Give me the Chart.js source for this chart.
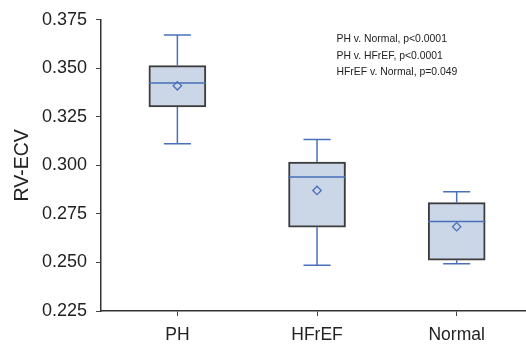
<!DOCTYPE html>
<html>
<head>
<meta charset="utf-8">
<script src="https://cdn.jsdelivr.net/npm/chart.js@4"></script>
<style>
  html, body { margin: 0; padding: 0; background: #fff; overflow: hidden; }
  #wrap { width: 526px; height: 345px; overflow: hidden; }
</style>
</head>
<body>
<div id="wrap"><canvas id="c" width="532" height="345"></canvas></div>
<script>
const categories = ['PH', 'HFrEF', 'Normal'];
const whiskerLow  = [0.3112, 0.2486, 0.2493];
const q1          = [0.3301, 0.2682, 0.2512];
const median      = [0.3425, 0.2940, 0.2711];
const q3          = [0.3514, 0.3017, 0.2808];
const whiskerHigh = [0.3672, 0.3134, 0.2864];
const means       = [0.3410, 0.2871, 0.2684];
const yTicks      = [0.225, 0.250, 0.275, 0.300, 0.325, 0.350, 0.375];
const annotations = ['PH v. Normal, p<0.0001', 'PH v. HFrEF, p<0.0001', 'HFrEF v. Normal, p=0.049'];

const BLUE = '#4a70bb';
const BOX_FILL = '#cbd6e7';
const BOX_EDGE = '#3c3c3c';
const BOX_HALF = 0.205;
const CAP_HALF = 0.097;
const FONT = "'Liberation Sans', Arial, Helvetica, sans-serif";

const xs = categories.map((_, i) => i + 1);

const whiskerPts = [];
xs.forEach((x, i) => {
  whiskerPts.push({x: x, y: q3[i]}, {x: x, y: whiskerHigh[i]}, {x: x, y: null});
  whiskerPts.push({x: x, y: q1[i]}, {x: x, y: whiskerLow[i]}, {x: x, y: null});
  whiskerPts.push({x: x - CAP_HALF, y: whiskerHigh[i]}, {x: x + CAP_HALF, y: whiskerHigh[i]}, {x: x, y: null});
  whiskerPts.push({x: x - CAP_HALF, y: whiskerLow[i]}, {x: x + CAP_HALF, y: whiskerLow[i]}, {x: x, y: null});
});
const medianPts = [];
xs.forEach((x, i) => {
  medianPts.push({x: x - BOX_HALF, y: median[i]}, {x: x + BOX_HALF, y: median[i]}, {x: x, y: null});
});

const annotationPlugin = {
  id: 'annot',
  afterDatasetsDraw(chart) {
    const ctx = chart.ctx;
    ctx.save();
    ctx.font = "10.4px " + FONT;
    ctx.fillStyle = '#222';
    ctx.textBaseline = 'middle';
    ctx.textAlign = 'left';
    annotations.forEach((t, i) => ctx.fillText(t, 336.5, 39.5 + i * 16.5));
    ctx.restore();
  }
};

new Chart(document.getElementById('c'), {
  type: 'bar',
  data: {
    datasets: [
      {
        type: 'bar',
        data: xs.map((x, i) => ({x: x, y: [q1[i], q3[i]]})),
        backgroundColor: BOX_FILL,
        borderColor: BOX_EDGE,
        borderWidth: 2,
        borderSkipped: false,
        barThickness: 57,
        order: 3
      },
      {
        type: 'line',
        data: whiskerPts,
        borderColor: BLUE,
        borderWidth: 1.5,
        pointRadius: 0,
        spanGaps: false,
        fill: false,
        order: 2
      },
      {
        type: 'line',
        data: medianPts,
        borderColor: BLUE,
        borderWidth: 1.5,
        pointRadius: 0,
        spanGaps: false,
        fill: false,
        order: 1
      },
      {
        type: 'scatter',
        data: xs.map((x, i) => ({x: x, y: means[i]})),
        pointStyle: 'rectRot',
        pointRadius: 4.2,
        pointBorderWidth: 1.3,
        borderColor: BLUE,
        backgroundColor: 'rgba(0,0,0,0)',
        order: 0
      }
    ]
  },
  options: {
    responsive: false,
    animation: false,
    devicePixelRatio: 1,
    layout: { padding: { top: 18, left: 0, right: 0, bottom: 0 } },
    plugins: { legend: { display: false }, tooltip: { enabled: false } },
    scales: {
      x: {
        type: 'linear',
        min: 0.453,
        max: 3.5,
        offset: false,
        afterBuildTicks(scale) { scale.ticks = xs.map(v => ({value: v})); },
        afterFit(scale) { scale.height = 34; },
        ticks: {
          callback: (v) => categories[v - 1],
          font: { family: FONT, size: 17.5 },
          color: '#222',
          padding: 9,
          autoSkip: false,
          maxRotation: 0
        },
        grid: { offset: false, drawOnChartArea: false, drawTicks: true, tickLength: 5, color: '#444', lineWidth: 1 },
        border: { color: '#333', width: 1.5 }
      },
      y: {
        type: 'linear',
        min: 0.225,
        max: 0.375,
        afterBuildTicks(scale) { scale.ticks = yTicks.map(v => ({value: v})); },
        afterFit(scale) { scale.width = 101; },
        ticks: {
          callback: (v) => v.toFixed(3),
          font: { family: FONT, size: 18 },
          color: '#222',
          padding: 9
        },
        grid: { drawOnChartArea: false, drawTicks: true, tickLength: 5, color: '#444', lineWidth: 1 },
        border: { color: '#333', width: 1.5 },
        title: {
          display: true,
          text: 'RV-ECV',
          font: { family: FONT, size: 19.5 },
          color: '#222',
          padding: { top: 11, bottom: 0 }
        }
      }
    }
  },
  plugins: [annotationPlugin]
});
</script>
</body>
</html>
